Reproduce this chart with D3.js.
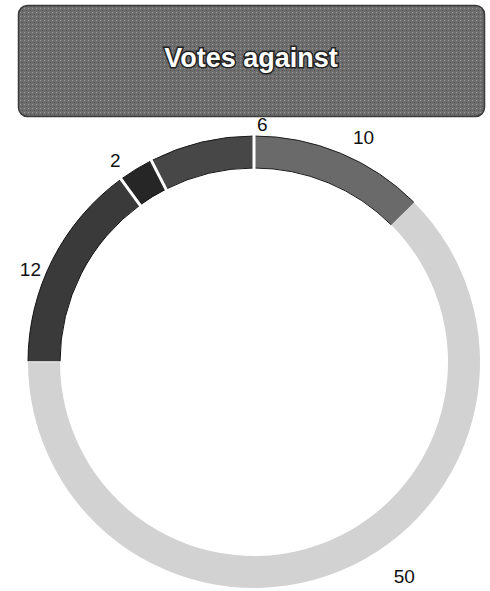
<!DOCTYPE html>
<html>
<head>
<meta charset="utf-8">
<script src="https://cdn.jsdelivr.net/npm/d3@7"></script>
<style>
  html, body { margin: 0; padding: 0; background: #fff; }
  svg { display: block; }
</style>
</head>
<body>
<svg id="chart" width="490" height="591"></svg>
<script>
// ---- data ----
const title = "Votes against";
const categories = ["A", "B", "C", "D", "E"];
const values = [10, 50, 12, 2, 6];
const labels = ["10", "50", "12", "2", "6"];

// ---- styling (not data) ----
const fills = ["#6a6a6a", "#d2d2d2", "#3a3a3a", "#262626", "#474747"];
const strokes = ["#1e1e1e", "none", "#111", "#111", "#1a1a1a"];
// angular nudges (degrees) and radial distances for labels
const labelNudge = [3.5, -12.5, -4.5, -3, 15.5];
const labelDist = [250, 262, 242, 245, 238];

const svg = d3.select("#chart");

// title box
const defs = svg.append("defs");
const pat = defs.append("pattern").attr("id", "dither")
  .attr("width", 4).attr("height", 4).attr("patternUnits", "userSpaceOnUse");
pat.append("rect").attr("width", 4).attr("height", 4).attr("fill", "#6e6e6e");
pat.append("rect").attr("x", 0).attr("y", 0).attr("width", 1).attr("height", 1).attr("fill", "#9a9a9a");
pat.append("rect").attr("x", 2).attr("y", 2).attr("width", 1).attr("height", 1).attr("fill", "#4a4a4a");

svg.append("rect")
  .attr("x", 18.5).attr("y", 5.5).attr("width", 466).attr("height", 111)
  .attr("rx", 9).attr("ry", 9)
  .attr("fill", "url(#dither)")
  .attr("stroke", "#3a3a3a").attr("stroke-width", 1.5);

svg.append("text")
  .attr("x", 251).attr("y", 67)
  .attr("text-anchor", "middle")
  .attr("font-family", "'Liberation Sans', Arial, sans-serif")
  .attr("font-weight", "bold")
  .attr("font-size", 27)
  .attr("fill", "#fff")
  .attr("stroke", "#222").attr("stroke-width", 3)
  .attr("paint-order", "stroke")
  .text(title);

// donut
const cx = 254, cy = 362;
const rOuter = 226, rInner = 194;

const pie = d3.pie().sort(null).value(d => d.value)
  .startAngle(0).endAngle(2 * Math.PI);
const data = categories.map((c, i) => ({ cat: c, value: values[i], label: labels[i], i }));
const arcs = pie(data);

const arc = d3.arc().innerRadius(rInner).outerRadius(rOuter);

const g = svg.append("g").attr("transform", `translate(${cx},${cy})`);

g.selectAll("path.seg")
  .data(arcs)
  .join("path")
  .attr("class", "seg")
  .attr("d", arc)
  .attr("fill", d => fills[d.data.i])
  .attr("stroke", d => strokes[d.data.i])
  .attr("stroke-width", 1);

// white separators between segments
g.selectAll("line.sep")
  .data(arcs.filter(d => d.data.i !== 1))
  .join("line")
  .attr("class", "sep")
  .attr("x1", d => Math.sin(d.startAngle) * (rInner - 2))
  .attr("y1", d => -Math.cos(d.startAngle) * (rInner - 2))
  .attr("x2", d => Math.sin(d.startAngle) * (rOuter + 2))
  .attr("y2", d => -Math.cos(d.startAngle) * (rOuter + 2))
  .attr("stroke", "#fff")
  .attr("stroke-width", d => d.data.i === 2 ? 1.5 : 3);

// labels
g.selectAll("text.lbl")
  .data(arcs)
  .join("text")
  .attr("class", "lbl")
  .attr("x", d => {
    const a = (d.startAngle + d.endAngle) / 2 + labelNudge[d.data.i] * Math.PI / 180;
    return Math.sin(a) * labelDist[d.data.i];
  })
  .attr("y", d => {
    const a = (d.startAngle + d.endAngle) / 2 + labelNudge[d.data.i] * Math.PI / 180;
    return -Math.cos(a) * labelDist[d.data.i];
  })
  .attr("dy", "0.36em")
  .attr("text-anchor", "middle")
  .attr("font-family", "'Liberation Sans', Arial, sans-serif")
  .attr("font-size", 19)
  .attr("fill", "#111")
  .text(d => d.data.label);
</script>
</body>
</html>
